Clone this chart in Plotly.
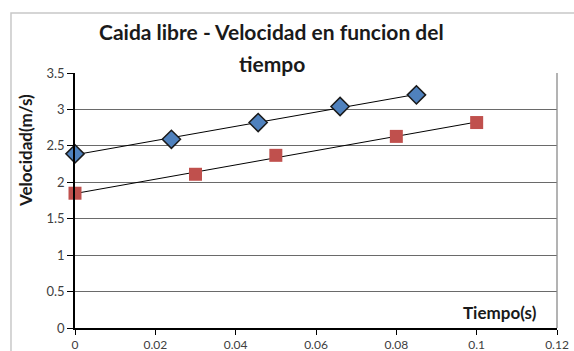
import numpy as np
import plotly.graph_objects as go

# Data
t_blue = [0, 0.024, 0.0456, 0.066, 0.085]
v_blue = [2.39, 2.59, 2.82, 3.04, 3.20]
t_red = [0, 0.03, 0.05, 0.08, 0.1]
v_red = [1.85, 2.11, 2.37, 2.63, 2.82]
y_ticks = [0, 0.5, 1, 1.5, 2, 2.5, 3, 3.5]
x_ticks = [0, 0.02, 0.04, 0.06, 0.08, 0.1, 0.12]

FONT = "Lato"
fig = go.Figure()

def trend(t, v):
    m, b = np.polyfit(t, v, 1)
    xs = [min(t), max(t)]
    return xs, [m * x + b for x in xs]

for t, v in [(t_blue, v_blue), (t_red, v_red)]:
    xs, ys = trend(t, v)
    fig.add_trace(go.Scatter(x=xs, y=ys, mode="lines",
                             line=dict(color="#000000", width=1),
                             showlegend=False, hoverinfo="skip", cliponaxis=False))

fig.add_trace(go.Scatter(x=t_blue, y=v_blue, mode="markers", cliponaxis=False,
                         marker=dict(symbol="diamond", size=14, color="#4F81BD",
                                     line=dict(color="#1a1a1a", width=1.5)),
                         showlegend=False))
fig.add_trace(go.Scatter(x=t_red, y=v_red, mode="markers", cliponaxis=False,
                         marker=dict(symbol="square", size=13, color="#C0504D",
                                     line=dict(width=0)),
                         showlegend=False))

fig.update_layout(
    width=574, height=351,
    margin=dict(l=75, r=17, t=73, b=23, pad=0),
    paper_bgcolor="white", plot_bgcolor="white",
    font=dict(family=FONT, color="#404040"),
    xaxis=dict(range=[0, 0.12], tickvals=x_ticks, ticktext=[f"{v:g}" for v in x_ticks],
               showgrid=False, zeroline=False, automargin=False,
               showline=True, linecolor="#000000", linewidth=1.5,
               ticks="outside", ticklen=5, tickcolor="#000000",
               tickfont=dict(family=FONT, size=12, color="#404040")),
    yaxis=dict(range=[0, 3.5], tickvals=y_ticks, ticktext=[f"{v:g}" for v in y_ticks],
               showgrid=True, gridcolor="#6a6a6a", gridwidth=1.3,
               zeroline=False, automargin=False,
               showline=True, linecolor="#000000", linewidth=1.5,
               ticks="outside", ticklen=6, tickcolor="#000000",
               tickfont=dict(family=FONT, size=13, color="#404040")),
    shapes=[
        dict(type="line", xref="paper", yref="paper", x0=1, x1=1, y0=0, y1=1,
             line=dict(color="#8a8a8a", width=1.3)),
        dict(type="rect", xref="paper", yref="paper", x0=-0.1328, x1=1.3, y0=-0.5, y1=1.235,
             line=dict(color="#c8c8c8", width=1.5), layer="below"),
    ],
    annotations=[
        dict(text="<b>Caida libre - Velocidad en funcion del</b>", xref="paper", yref="paper",
             x=0.4087, y=1.1608, showarrow=False, xanchor="center", yanchor="middle",
             font=dict(family=FONT, size=21, color="#1a1a1a")),
        dict(text="<b>tiempo</b>", xref="paper", yref="paper",
             x=0.4087, y=1.039, showarrow=False, xanchor="center", yanchor="middle",
             font=dict(family=FONT, size=21, color="#1a1a1a")),
        dict(text="<b>Velocidad(m/s)</b>", xref="paper", yref="paper",
             x=-0.1037, y=0.694, textangle=-90, showarrow=False,
             xanchor="center", yanchor="middle",
             font=dict(family=FONT, size=17, color="#1a1a1a")),
        dict(text="<b>Tiempo(s)</b>", xref="paper", yref="paper",
             x=0.8817, y=0.0627, showarrow=False, xanchor="center", yanchor="middle",
             font=dict(family=FONT, size=17, color="#1a1a1a")),
    ],
)

fig.write_html("out.html", config={"displayModeBar": False},
               post_script="document.body.style.margin='0';document.body.style.overflow='hidden';")
